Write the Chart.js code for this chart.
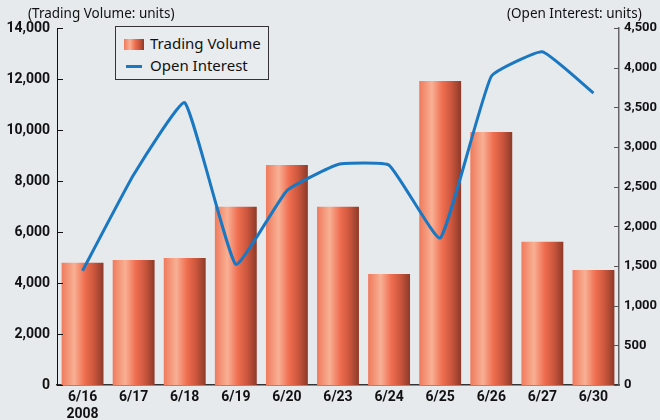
<!DOCTYPE html>
<html>
<head>
<meta charset="utf-8">
<script src="https://cdn.jsdelivr.net/npm/chart.js@4.4.1/dist/chart.umd.min.js"></script>
<style>
  body { margin: 0; background: #e6eaed; }
  #wrap { position: relative; width: 660px; height: 420px; background: #e6eaed; }
  .unit { position: absolute; top: 4px; font: 13.5px "Noto Sans", sans-serif; color: #111; white-space: nowrap; }
  #legend { position: absolute; left: 115px; top: 26px; width: 154px; height: 54px; border: 1px solid #333; box-sizing: border-box; background: #e8ecef; font: 15px "Noto Sans", sans-serif; color: #111; }
  #legend .row { position: absolute; left: 8px; height: 20px; line-height: 20px; white-space: nowrap; }
  #legend .sw { display: inline-block; vertical-align: middle; width: 20px; margin-right: 6px; }
</style>
</head>
<body>
<div id="wrap">
  <canvas id="chart" width="660" height="420"></canvas>
  <div class="unit" style="left:28px">(Trading Volume: units)</div>
  <div class="unit" style="left:507px">(Open Interest: units)</div>
  <div id="legend">
    <div class="row" style="top:6px"><span class="sw" style="height:11px;background:linear-gradient(to right,#f07a5c,#f8b094 30%,#f06e50 55%,#c9553c 78%,#8c3a29)"></span>Trading Volume</div>
    <div class="row" style="top:28px"><span class="sw" style="height:3px;background:#1a78c2;width:16px;margin-left:2px;margin-right:8px"></span>Open Interest</div>
  </div>
</div>
<script>
var dates = ["6/16", "6/17", "6/18", "6/19", "6/20", "6/23", "6/24", "6/25", "6/26", "6/27", "6/30"];
var volume = [4790, 4900, 4980, 6990, 8630, 6990, 4350, 11920, 9920, 5620, 4510];
var openInterest = [1440, 2650, 3560, 1520, 2450, 2780, 2770, 1850, 3890, 4200, 3680];
var volumeTicks = [0, 2000, 4000, 6000, 8000, 10000, 12000, 14000];
var oiTicks = [0, 500, 1000, 1500, 2000, 2500, 3000, 3500, 4000, 4500];

var labels = dates.map(function(d, i){ return i == 0 ? [d, "2008"] : d; });
var tickFont = { family: "Roboto, 'DejaVu Sans Condensed', sans-serif", size: 14, weight: "bold" };
var barPct = 0.82;

function barGradient(c) {
  var chart = c.chart;
  var xs = chart.scales.x;
  if (!xs || c.dataIndex === undefined) return "#f07a5c";
  var w = xs.width / dates.length * barPct;
  var cx = xs.getPixelForValue(c.dataIndex);
  if (!isFinite(cx) || !isFinite(w) || w <= 0) return "#f07a5c";
  var g = chart.ctx.createLinearGradient(cx - w / 2, 0, cx + w / 2, 0);
  g.addColorStop(0, "#f07a5c");
  g.addColorStop(0.3, "#f8b094");
  g.addColorStop(0.55, "#f06e50");
  g.addColorStop(0.78, "#c9553c");
  g.addColorStop(1, "#8c3a29");
  return g;
}

// short inward ticks on both value axes
var innerTicks = {
  id: "innerTicks",
  afterDraw: function(chart) {
    var ctx = chart.ctx, a = chart.chartArea;
    ctx.save();
    ctx.lineWidth = 1;
    ctx.strokeStyle = "#111";
    volumeTicks.forEach(function(v){
      var y = Math.round(chart.scales.y.getPixelForValue(v)) + 0.5;
      ctx.beginPath(); ctx.moveTo(a.left, y); ctx.lineTo(a.left + 6, y); ctx.stroke();
    });
    ctx.strokeStyle = "#555";
    oiTicks.forEach(function(v){
      var y = Math.round(chart.scales.y1.getPixelForValue(v)) + 0.5;
      ctx.beginPath(); ctx.moveTo(a.right - 5, y); ctx.lineTo(a.right, y); ctx.stroke();
    });
    ctx.restore();
  }
};

new Chart(document.getElementById("chart"), {
  data: {
    labels: labels,
    datasets: [
      {
        type: "line",
        label: "Open Interest",
        data: openInterest,
        yAxisID: "y1",
        borderColor: "#1a78c2",
        borderWidth: 3,
        pointRadius: 0,
        tension: 0.12,
        order: 0
      },
      {
        type: "bar",
        label: "Trading Volume",
        data: volume,
        yAxisID: "y",
        backgroundColor: barGradient,
        categoryPercentage: 1,
        barPercentage: barPct,
        order: 1
      }
    ]
  },
  options: {
    responsive: false,
    animation: false,
    layout: { padding: { top: 28, left: 0, right: 0, bottom: 0 } },
    plugins: { legend: { display: false }, tooltip: { enabled: false } },
    scales: {
      x: {
        grid: { display: false, drawTicks: false },
        border: { display: true, color: "#333", width: 1.5 },
        ticks: { color: "#111", font: tickFont, padding: 4, maxRotation: 0 },
        afterFit: function(s){ s.height = 35; }
      },
      y: {
        position: "left",
        min: 0, max: 14000,
        grid: { display: false, drawTicks: false },
        border: { display: true, color: "#111", width: 1 },
        ticks: { stepSize: 2000, color: "#111", font: tickFont, padding: 7,
          callback: function(v){ return v.toLocaleString("en-US"); } },
        afterFit: function(s){ s.width = 57; }
      },
      y1: {
        position: "right",
        min: 0, max: 4500,
        grid: { display: false, drawTicks: false },
        border: { display: true, color: "#666", width: 1.5 },
        ticks: { stepSize: 500, color: "#111", font: { family: tickFont.family, size: 13, weight: "bold" }, padding: 5,
          callback: function(v){ return v.toLocaleString("en-US"); } },
        afterFit: function(s){ s.width = 41; }
      }
    }
  },
  plugins: [innerTicks]
});
</script>
</body>
</html>
